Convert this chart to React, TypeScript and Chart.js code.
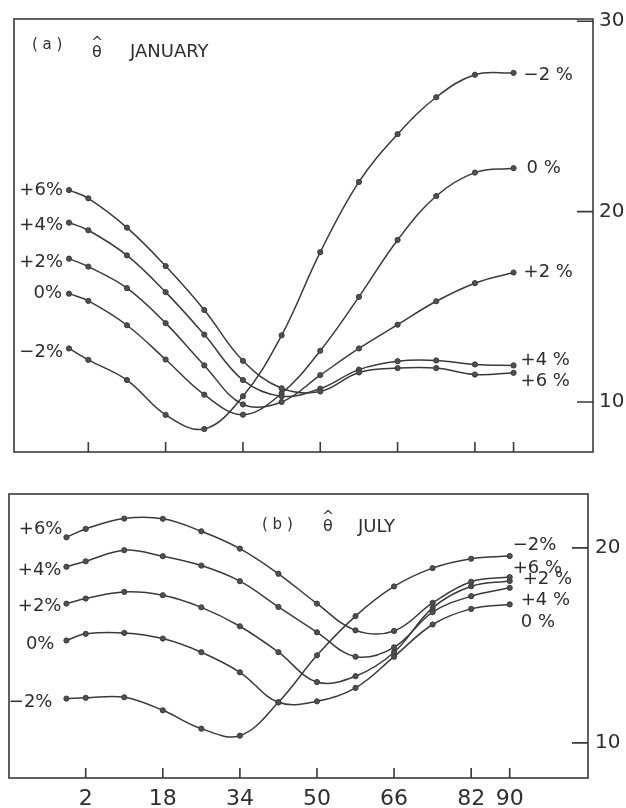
import React, { useEffect, useRef } from "react";
import { Chart, registerables } from "chart.js";

Chart.register(...registerables);

// ---------- data ----------
const xPoints = [-2, 2, 10, 18, 26, 34, 42, 50, 58, 66, 74, 82, 90];
const xTickValues = [2, 18, 34, 50, 66, 82, 90];
const janYTicks = [10, 20, 30];
const julYTicks = [10, 20];

const leftLabels = ["+6%", "+4%", "+2%", "0%", "−2%"];
const janRightLabels = ["+6 %", "+4 %", "+2 %", "0 %", "−2 %"];
const julRightLabels = ["+6 %", "+4 %", "+2 %", "0 %", "−2%"];

// January
const janP6 = [21.13, 20.7, 19.16, 17.14, 14.83, 12.16, 10.72, 10.55, 11.55, 11.78, 11.78, 11.44, 11.53];
const janP4 = [19.42, 19.02, 17.7, 15.77, 13.54, 11.15, 10.3, 10.7, 11.7, 12.14, 12.18, 11.97, 11.92];
const janP2 = [17.53, 17.11, 15.98, 14.14, 11.92, 9.87, 10.0, 11.41, 12.81, 14.06, 15.29, 16.24, 16.8];
const janZ0 = [15.69, 15.31, 14.03, 12.23, 10.38, 9.33, 10.45, 12.69, 15.52, 18.51, 20.82, 22.05, 22.28];
const janM2 = [12.81, 12.21, 11.15, 9.32, 8.58, 10.3, 13.5, 17.87, 21.56, 24.07, 26.01, 27.19, 27.29];

// July
const julP6 = [20.54, 20.97, 21.5, 21.49, 20.85, 19.96, 18.67, 17.14, 15.77, 15.74, 17.18, 18.26, 18.5];
const julP4 = [19.03, 19.31, 19.88, 19.57, 19.09, 18.29, 16.97, 15.67, 14.42, 14.9, 16.7, 17.52, 17.95];
const julP2 = [17.14, 17.4, 17.74, 17.57, 16.95, 15.98, 14.65, 13.12, 13.42, 14.65, 16.92, 18.03, 18.3];
const julZ0 = [15.25, 15.59, 15.64, 15.35, 14.65, 13.62, 12.08, 12.13, 12.82, 14.42, 16.07, 16.87, 17.1];
const julM2 = [12.27, 12.31, 12.34, 11.67, 10.73, 10.37, 12.08, 14.49, 16.5, 18.02, 18.96, 19.44, 19.58];

// ---------- styles ----------
const INK = "#3a3a3a";
const TEXT = "#2e2e2e";
const FONT = "'DejaVu Sans', sans-serif";

type LabelOffset = [number, number];
type PanelStyle = {
  canvasTop: number;
  canvasHeight: number;
  padLeft: number;
  padTop: number;
  xAxisH: number;
  yAxisW: number;
  xMin: number;
  xMax: number;
  yMin: number;
  yMax: number;
  yLabelPad: number;
  showXLabels: boolean;
  leftOffsets: LabelOffset[];
  rightOffsets: LabelOffset[];
  title: { tag: string; word: string; tagX: number; tagY: number; thetaX: number; thetaY: number; wordX: number; wordY: number };
};

const janStyle: PanelStyle = {
  canvasTop: 0,
  canvasHeight: 470,
  padLeft: 14,
  padTop: 19,
  xAxisH: 8,
  yAxisW: 33,
  xMin: -13.38,
  xMax: 106.44,
  yMin: 7.37,
  yMax: 30.12,
  yLabelPad: 6,
  showXLabels: false,
  leftOffsets: [[-6, 0], [-6, 3], [-6, 4], [-7, 0], [-6, 4]],
  rightOffsets: [[7, 9], [7, -5], [10, 0], [13, 0], [10, 2]],
  title: { tag: "( a )", word: "JANUARY", tagX: 18, tagY: 26, thetaX: 83, thetaY: 34, wordX: 116, wordY: 33 },
};

const julStyle: PanelStyle = {
  canvasTop: 470,
  canvasHeight: 338,
  padLeft: 9,
  padTop: 24,
  xAxisH: 30,
  yAxisW: 38,
  xMin: -13.92,
  xMax: 106.25,
  yMin: 8.2,
  yMax: 22.76,
  yLabelPad: 7,
  showXLabels: true,
  leftOffsets: [[-4, -8], [-5, 4], [-5, 3], [-12, 4], [-14, 4]],
  rightOffsets: [[3, -9], [11, 13], [13, -2], [11, 18], [3, -11]],
  title: { tag: "( b )", word: "JULY", tagX: 253, tagY: 31, thetaX: 319, thetaY: 33, wordX: 349, wordY: 33 },
};

const makeDatasets = (series: number[][]) =>
  series.map((ys) => ({
    data: xPoints.map((x, i) => ({ x, y: ys[i] })),
    borderColor: INK,
    borderWidth: 1.5,
    pointRadius: 2.6,
    pointBackgroundColor: "#505050",
    pointBorderColor: INK,
    pointBorderWidth: 1,
    tension: 0.38,
    fill: false,
  }));

function makePlugin(style: PanelStyle, rightLabels: string[]) {
  return {
    id: "frameAndLabels",
    afterDatasetsDraw(chart: any) {
      const { ctx, chartArea: a, scales } = chart;
      ctx.save();
      ctx.strokeStyle = INK;
      ctx.lineWidth = 1.6;
      ctx.strokeRect(a.left, a.top, a.right - a.left, a.bottom - a.top);
      ctx.beginPath();
      scales.x.ticks.forEach((t: any) => {
        const px = scales.x.getPixelForValue(t.value);
        ctx.moveTo(px, a.bottom);
        ctx.lineTo(px, a.bottom - 10);
      });
      scales.y.ticks.forEach((t: any) => {
        const py = scales.y.getPixelForValue(t.value);
        ctx.moveTo(a.right, py);
        ctx.lineTo(a.right - 16, py);
      });
      ctx.stroke();

      ctx.fillStyle = TEXT;
      ctx.font = `18px ${FONT}`;
      ctx.textBaseline = "middle";
      chart.data.datasets.forEach((_: any, i: number) => {
        const meta = chart.getDatasetMeta(i);
        const first = meta.data[0];
        const last = meta.data[meta.data.length - 1];
        const [ldx, ldy] = style.leftOffsets[i];
        ctx.textAlign = "right";
        ctx.fillText(leftLabels[i], first.x + ldx, first.y + ldy);
        const [rdx, rdy] = style.rightOffsets[i];
        ctx.textAlign = "left";
        ctx.fillText(rightLabels[i], last.x + rdx, last.y + rdy);
      });

      const t = style.title;
      ctx.textAlign = "left";
      ctx.font = `15px ${FONT}`;
      ctx.fillText(t.tag, a.left + t.tagX, a.top + t.tagY);
      ctx.textAlign = "center";
      ctx.font = `14px ${FONT}`;
      ctx.fillText("^", a.left + t.thetaX, a.top + t.thetaY - 10);
      ctx.font = `16px ${FONT}`;
      ctx.fillText("θ", a.left + t.thetaX, a.top + t.thetaY);
      ctx.textAlign = "left";
      ctx.font = `18px ${FONT}`;
      ctx.fillText(t.word, a.left + t.wordX, a.top + t.wordY);
      ctx.restore();
    },
  };
}

function Panel({ style, series, yTicks, rightLabels }: { style: PanelStyle; series: number[][]; yTicks: number[]; rightLabels: string[] }) {
  const ref = useRef<HTMLCanvasElement>(null);
  useEffect(() => {
    if (!ref.current) return;
    const chart = new Chart(ref.current, {
      type: "line",
      data: { datasets: makeDatasets(series) as any },
      options: {
        animation: false,
        responsive: false,
        maintainAspectRatio: false,
        layout: { padding: { left: style.padLeft, top: style.padTop, right: 0, bottom: 0 } },
        plugins: { legend: { display: false }, tooltip: { enabled: false } },
        scales: {
          x: {
            type: "linear",
            min: style.xMin,
            max: style.xMax,
            afterBuildTicks: (s: any) => {
              s.ticks = xTickValues.map((v) => ({ value: v }));
            },
            afterFit: (s: any) => {
              s.height = style.xAxisH;
            },
            grid: { display: false, drawTicks: false },
            border: { display: false },
            ticks: {
              display: style.showXLabels,
              padding: 8,
              color: TEXT,
              font: { family: FONT, size: 22 },
              maxRotation: 0,
              autoSkip: false,
            },
          },
          y: {
            type: "linear",
            position: "right",
            min: style.yMin,
            max: style.yMax,
            afterBuildTicks: (s: any) => {
              s.ticks = yTicks.map((v) => ({ value: v }));
            },
            afterFit: (s: any) => {
              s.width = style.yAxisW;
            },
            grid: { display: false, drawTicks: false },
            border: { display: false },
            ticks: { padding: style.yLabelPad, color: TEXT, font: { family: FONT, size: 20 } },
          },
        },
      } as any,
      plugins: [makePlugin(style, rightLabels)],
    });
    return () => chart.destroy();
  }, []);
  return (
    <canvas
      ref={ref}
      width={626}
      height={style.canvasHeight}
      style={{ position: "absolute", left: 0, top: style.canvasTop, width: 626, height: style.canvasHeight, display: "block" }}
    />
  );
}

export default function App() {
  return (
    <div style={{ position: "absolute", left: 0, top: 0, width: 626, height: 808, background: "#fff" }}>
      <Panel style={janStyle} series={[janP6, janP4, janP2, janZ0, janM2]} yTicks={janYTicks} rightLabels={janRightLabels} />
      <Panel style={julStyle} series={[julP6, julP4, julP2, julZ0, julM2]} yTicks={julYTicks} rightLabels={julRightLabels} />
    </div>
  );
}
